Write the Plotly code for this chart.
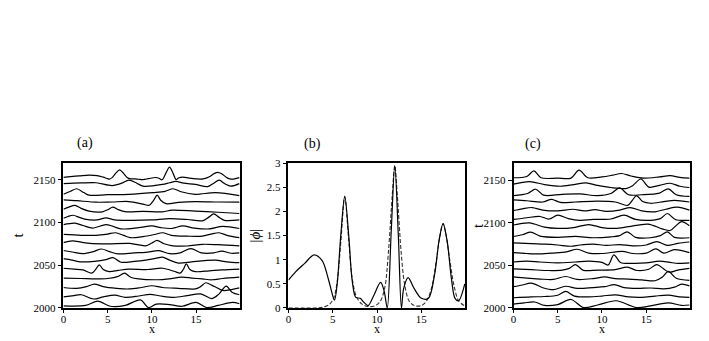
import plotly.graph_objects as go

# base time of every trace in the waterfalls (a) and (c)
t_rows = [2000, 2010, 2020, 2030, 2040, 2050, 2060, 2070, 2080, 2090, 2100, 2110, 2120, 2130, 2140, 2150]
amp_scale = 5.0  # t units drawn per unit of |phi|

# (b) |phi| at the last time (solid) and the soliton fit (dashed)
b_x = [0, 0.8, 1.8, 2.9, 3.8, 4.5, 5.0, 5.2, 5.5, 5.9, 6.35, 6.8, 7.2, 7.6, 8.1, 8.5, 9.0, 9.6, 10.4, 10.8,
       11.15, 11.6, 12.0, 12.4, 12.75, 13.0, 13.5, 14.2, 15.0, 15.8, 16.5, 17.0, 17.45, 17.9, 18.4, 18.8, 19.2, 19.9]
b_phi = [0.58, 0.75, 0.92, 1.1, 0.98, 0.6, 0.25, 0.16, 0.5, 1.5, 2.32, 1.5, 0.55, 0.22, 0.2, 0.12, 0.05, 0.25, 0.53, 0.35,
         0.0, 1.6, 2.95, 1.5, 0.0, 0.4, 0.63, 0.4, 0.2, 0.2, 0.7, 1.4, 1.75, 1.4, 0.6, 0.2, 0.15, 0.5]
b_fit_x = [0, 3.0, 4.0, 4.6, 5.1, 5.5, 5.9, 6.35, 6.8, 7.2, 7.7, 8.3, 9.0, 9.8, 10.4, 10.9, 11.3, 11.7, 12.0, 12.3,
           12.7, 13.1, 13.6, 14.2, 15.0, 15.6, 16.2, 16.7, 17.1, 17.45, 17.8, 18.2, 18.7, 19.2, 19.9]
b_fit_phi = [0, 0, 0.02, 0.07, 0.2, 0.55, 1.35, 2.3, 1.4, 0.6, 0.22, 0.08, 0.03, 0.05, 0.15, 0.45, 1.2, 2.3, 2.95, 2.3,
             1.2, 0.5, 0.15, 0.05, 0.05, 0.15, 0.45, 1.0, 1.5, 1.75, 1.5, 1.0, 0.45, 0.15, 0.04]

# (a) waterfall, one knot list per trace (x, |phi|)
a00_x = [0, 2.5, 3.9, 5.3, 7.0, 8.7, 9.6, 10.5, 12.0, 13.4, 15.0, 16.2, 17.5, 19.1, 19.9]
a00_phi = [0.5, 0.6, 1.6, 0.4, 0.6, 1.9, 0.1, 0.9, 0.8, 0.4, 1.3, 0.1, 0.6, 1.3, 1.0]
a01_x = [0, 1.2, 2.0, 3.4, 4.5, 5.8, 7.0, 8.5, 9.8, 11.0, 12.5, 14.0, 15.5, 16.8, 17.6, 18.4, 19.1, 19.9]
a01_phi = [0.6, 0.9, 1.1, 0.1, 0.6, 1.0, 0.5, 0.8, 1.2, 0.8, 0.5, 0.9, 1.3, 0.2, 1.3, 3.1, 1.6, 1.1]
a02_x = [0, 1.5, 2.6, 3.5, 4.5, 6.0, 7.4, 8.8, 10.0, 11.2, 13.0, 14.9, 15.5, 16.1, 16.8, 17.2, 18.0, 19.0, 19.9]
a02_phi = [0.8, 0.6, 1.0, 1.6, 1.0, 0.6, 0.45, 0.8, 1.2, 0.8, 0.6, 0.45, 1.0, 1.9, 1.3, 0.9, 0.1, 0.3, 0.7]
a03_x = [0, 2.0, 3.7, 5.0, 6.2, 6.9, 7.6, 8.5, 11.2, 13.4, 14.5, 15.7, 16.8, 18.0, 19.9]
a03_phi = [1.0, 0.9, 0.8, 0.9, 1.4, 2.15, 1.2, 0.8, 0.65, 1.2, 1.0, 0.8, 0.6, 0.9, 1.2]
a04_x = [0, 1.2, 2.2, 3.2, 3.6, 4.05, 4.5, 5.2, 6.2, 7.4, 9.5, 11.2, 12.5, 13.2, 13.55, 13.9, 14.3, 14.9, 16.5, 17.9, 19.9]
a04_phi = [1.3, 1.1, 0.9, 0.15, 0.9, 2.1, 1.0, 0.5, 0.8, 1.1, 1.0, 1.3, 0.6, 0.15, 1.0, 2.3, 1.0, 0.5, 0.7, 0.9, 1.1]
a05_x = [0, 1.0, 1.9, 3.5, 4.8, 5.6, 6.5, 8.0, 9.3, 10.4, 11.2, 12.0, 13.0, 14.5, 16.0, 17.2, 18.5, 19.9]
a05_phi = [1.55, 1.2, 0.8, 0.9, 1.3, 1.8, 0.7, 0.9, 1.2, 1.6, 1.9, 1.2, 0.5, 0.8, 1.1, 1.2, 0.8, 0.6]
a06_x = [0, 1.0, 2.2, 3.4, 4.3, 5.2, 6.2, 8.0, 9.3, 10.8, 12.0, 13.2, 14.4, 15.6, 17.0, 17.9, 19.0, 19.9]
a06_phi = [1.45, 1.1, 0.7, 1.2, 1.8, 1.2, 0.65, 0.9, 1.0, 1.4, 0.7, 0.9, 1.9, 0.9, 0.9, 1.3, 0.8, 0.9]
a07_x = [0, 1.0, 2.0, 3.0, 5.0, 7.5, 9.3, 10.0, 10.6, 11.3, 12.2, 14.0, 15.7, 17.5, 19.9]
a07_phi = [1.3, 1.7, 1.4, 1.1, 1.0, 1.1, 0.55, 1.2, 1.8, 1.1, 0.6, 0.5, 0.9, 0.8, 0.55]
a08_x = [0, 2.0, 3.7, 5.0, 5.9, 6.8, 7.6, 9.0, 10.3, 11.2, 12.2, 14.0, 15.7, 16.7, 17.6, 18.5, 19.9]
a08_phi = [1.2, 1.0, 1.0, 1.3, 1.6, 1.0, 0.45, 0.7, 1.2, 1.6, 1.0, 0.8, 0.8, 1.3, 1.6, 1.0, 0.45]
a09_x = [0, 1.3, 2.2, 3.3, 4.8, 5.6, 6.5, 8.5, 10.0, 11.0, 12.2, 13.5, 14.8, 16.5, 18.0, 19.9]
a09_phi = [1.5, 1.85, 1.3, 0.7, 1.5, 1.1, 0.5, 0.8, 1.2, 0.8, 0.6, 1.2, 0.7, 0.5, 1.1, 0.6]
a10_x = [0, 0.5, 1.1, 1.8, 2.4, 3.8, 4.8, 5.8, 7.5, 10.0, 12.0, 14.0, 15.7, 16.4, 17.0, 17.6, 18.2, 19.9]
a10_phi = [1.0, 1.4, 1.7, 1.2, 0.8, 0.6, 1.1, 0.6, 0.5, 0.6, 0.9, 0.7, 0.4, 1.2, 2.0, 1.2, 0.5, 0.6]
a11_x = [0, 0.6, 1.3, 2.0, 2.9, 4.4, 5.0, 5.6, 6.2, 7.1, 9.0, 11.2, 12.3, 14.9, 17.5, 19.9]
a11_phi = [1.1, 1.6, 2.0, 1.3, 0.65, 0.5, 1.0, 1.6, 1.0, 0.5, 0.6, 0.5, 0.9, 0.65, 0.4, 0.1]
a12_x = [0, 1.5, 3.7, 5.5, 7.4, 9.0, 9.7, 10.2, 10.6, 11.0, 11.6, 13.0, 14.9, 17.5, 19.9]
a12_phi = [1.3, 1.1, 0.75, 0.8, 0.9, 0.3, 0.05, 1.2, 2.4, 1.2, 0.4, 0.7, 0.9, 0.8, 0.75]
a13_x = [0, 0.8, 1.5, 2.3, 2.9, 5.0, 7.4, 10.1, 11.5, 12.4, 13.3, 14.9, 17.2, 19.9]
a13_phi = [0.6, 1.3, 1.9, 1.0, 0.4, 0.5, 0.6, 1.0, 1.3, 1.9, 1.2, 0.6, 1.0, 0.3]
a14_x = [0, 2.0, 3.7, 5.5, 6.6, 7.4, 8.3, 9.0, 11.2, 12.0, 12.7, 13.6, 14.9, 16.3, 17.0, 17.6, 18.3, 18.9, 19.9]
a14_phi = [1.1, 1.25, 1.3, 0.65, 1.2, 1.9, 1.2, 0.5, 0.9, 1.3, 1.6, 1.2, 0.9, 0.4, 1.2, 1.9, 1.0, 0.5, 1.1]
# the top trace of (a) is the profile shown in (b)

# (c) waterfall
c00_x = [0, 1.2, 2.4, 3.5, 5.0, 6.5, 7.9, 9.5, 11.6, 13.9, 15.5, 17.5, 19.0, 19.9]
c00_phi = [0.9, 1.2, 1.4, 0.6, 0.8, 2.0, 0.1, 0.7, 1.7, 0.1, 0.5, 1.2, 0.6, 0.7]
c01_x = [0, 2.0, 3.5, 5.0, 5.9, 6.9, 8.5, 10.0, 11.5, 13.0, 14.5, 16.0, 17.5, 18.8, 19.9]
c01_phi = [0.4, 0.6, 0.7, 1.0, 1.9, 0.8, 0.6, 0.8, 1.1, 0.6, 0.5, 0.8, 1.0, 0.6, 0.5]
c02_x = [0, 1.0, 2.0, 3.4, 4.5, 5.9, 7.2, 9.0, 10.3, 11.4, 12.5, 14.0, 15.5, 17.0, 18.2, 19.0, 19.9]
c02_phi = [1.0, 1.4, 1.85, 0.7, 0.3, 1.1, 0.6, 0.8, 1.0, 1.5, 0.8, 0.6, 0.7, 0.5, 0.9, 1.6, 1.2]
c03_x = [0, 1.5, 3.0, 4.5, 5.9, 7.2, 9.0, 10.3, 11.5, 13.0, 14.5, 16.0, 16.8, 17.5, 18.4, 19.9]
c03_phi = [1.3, 1.0, 0.8, 0.7, 1.4, 0.7, 0.9, 1.3, 0.9, 0.8, 0.6, 0.4, 1.2, 2.6, 1.0, 0.5]
c04_x = [0, 2.0, 4.0, 5.5, 6.3, 7.0, 7.9, 9.5, 11.5, 12.85, 14.0, 15.3, 16.2, 17.1, 17.6, 18.6, 19.9]
c04_phi = [1.2, 1.0, 0.8, 0.9, 1.3, 2.2, 0.85, 0.9, 1.0, 1.6, 0.8, 1.1, 2.2, 1.0, 0.4, 0.9, 1.3]
c05_x = [0, 1.5, 3.0, 5.0, 7.0, 8.5, 10.0, 10.7, 11.35, 12.1, 13.5, 15.0, 16.5, 17.7, 18.6, 19.9]
c05_phi = [0.8, 1.0, 0.8, 0.6, 0.8, 1.0, 0.7, 0.1, 2.5, 0.7, 0.5, 0.6, 1.0, 0.7, 0.5, 0.6]
c06_x = [0, 1.5, 3.0, 4.5, 6.0, 7.2, 8.5, 10.0, 12.3, 13.5, 15.0, 16.1, 17.0, 18.2, 19.9]
c06_phi = [1.0, 0.8, 0.7, 0.9, 1.2, 1.8, 0.9, 0.8, 1.3, 0.8, 0.9, 1.9, 0.9, 1.7, 1.0]
c07_x = [0, 2.0, 3.5, 5.0, 6.5, 7.5, 9.0, 10.5, 12.0, 13.5, 15.0, 16.2, 17.4, 18.6, 19.9]
c07_phi = [1.3, 1.1, 1.0, 0.8, 0.5, 0.8, 1.0, 0.7, 0.9, 0.6, 0.8, 1.6, 0.7, 1.2, 1.5]
c08_x = [0, 1.0, 1.95, 3.0, 5.0, 7.0, 9.0, 11.0, 12.0, 12.85, 13.8, 15.5, 16.6, 17.4, 18.2, 19.9]
c08_phi = [0.8, 1.2, 1.8, 0.9, 0.6, 0.8, 0.5, 0.7, 1.0, 1.9, 0.6, 0.5, 1.0, 1.9, 0.6, 0.5]
c09_x = [0, 1.8, 3.5, 5.0, 6.8, 8.5, 10.0, 11.5, 13.0, 15.2, 16.8, 17.7, 18.3, 19.0, 19.9]
c09_phi = [1.5, 2.0, 1.0, 0.7, 0.9, 1.6, 0.9, 0.7, 1.1, 1.7, 0.6, 0.2, 1.2, 2.3, 1.3]
c10_x = [0, 1.5, 3.0, 4.0, 5.0, 6.2, 7.5, 9.0, 11.0, 12.5, 13.8, 15.5, 16.6, 17.4, 18.3, 19.9]
c10_phi = [0.8, 1.2, 1.5, 0.9, 1.8, 1.0, 0.6, 0.8, 0.9, 1.8, 0.8, 0.6, 1.0, 2.2, 0.8, 0.6]
c11_x = [0, 1.0, 2.1, 3.3, 5.0, 6.7, 8.0, 9.2, 10.5, 12.0, 13.2, 14.5, 16.0, 17.2, 18.5, 19.9]
c11_phi = [0.9, 1.3, 1.6, 1.0, 0.8, 1.2, 0.8, 1.1, 0.7, 1.0, 1.6, 0.8, 0.6, 1.2, 1.7, 1.0]
c12_x = [0, 1.5, 3.3, 4.3, 5.3, 7.0, 9.5, 11.5, 12.9, 13.4, 13.9, 14.6, 15.5, 17.0, 18.2, 19.9]
c12_phi = [1.4, 1.2, 0.9, 1.5, 0.8, 0.9, 1.1, 0.9, 0.1, 1.2, 2.4, 1.0, 0.6, 1.0, 1.3, 0.9]
c13_x = [0, 1.6, 2.5, 3.4, 5.5, 7.5, 9.5, 11.0, 12.0, 13.0, 14.5, 16.5, 17.5, 18.4, 19.9]
c13_phi = [0.4, 0.9, 1.9, 0.5, 0.7, 0.8, 0.4, 0.9, 2.2, 0.6, 0.6, 1.0, 2.0, 0.6, 0.2]
c14_x = [0, 1.8, 3.5, 5.3, 6.8, 8.2, 9.5, 11.0, 12.8, 13.5, 14.4, 15.3, 16.5, 17.7, 18.8, 19.9]
c14_phi = [1.1, 1.7, 1.0, 0.6, 1.0, 1.4, 0.8, 0.3, 0.1, 0.8, 2.3, 0.4, 0.8, 1.3, 0.6, 0.3]
c15_x = [0, 1.5, 2.3, 3.1, 5.0, 6.5, 7.4, 8.4, 10.0, 11.2, 12.2, 13.3, 14.7, 16.5, 17.7, 18.8, 19.9]
c15_phi = [0.6, 0.9, 2.2, 0.6, 0.5, 0.5, 2.4, 0.6, 0.8, 1.2, 1.6, 1.0, 0.5, 0.8, 1.1, 0.7, 0.5]

a_traces = [(a00_x, a00_phi), (a01_x, a01_phi), (a02_x, a02_phi), (a03_x, a03_phi), (a04_x, a04_phi),
            (a05_x, a05_phi), (a06_x, a06_phi), (a07_x, a07_phi), (a08_x, a08_phi), (a09_x, a09_phi),
            (a10_x, a10_phi), (a11_x, a11_phi), (a12_x, a12_phi), (a13_x, a13_phi), (a14_x, a14_phi),
            (b_x, b_phi)]
c_traces = [(c00_x, c00_phi), (c01_x, c01_phi), (c02_x, c02_phi), (c03_x, c03_phi), (c04_x, c04_phi),
            (c05_x, c05_phi), (c06_x, c06_phi), (c07_x, c07_phi), (c08_x, c08_phi), (c09_x, c09_phi),
            (c10_x, c10_phi), (c11_x, c11_phi), (c12_x, c12_phi), (c13_x, c13_phi), (c14_x, c14_phi),
            (c15_x, c15_phi)]

FONT = "Liberation Serif, Times New Roman, serif"
W, H = 709, 341

fig = go.Figure()

for (xs, ph), t0 in zip(a_traces, t_rows):
    fig.add_trace(go.Scatter(x=xs, y=[t0 + amp_scale * p for p in ph], mode="lines",
                             line=dict(color="black", width=1.2, shape="spline", smoothing=0.9),
                             xaxis="x", yaxis="y", showlegend=False, hoverinfo="skip"))

fig.add_trace(go.Scatter(x=b_fit_x, y=b_fit_phi, mode="lines",
                         line=dict(color="#333333", width=1.1, dash="4px,2px", shape="spline", smoothing=0.9),
                         xaxis="x2", yaxis="y2", showlegend=False, hoverinfo="skip"))
fig.add_trace(go.Scatter(x=b_x, y=b_phi, mode="lines",
                         line=dict(color="black", width=1.2, shape="spline", smoothing=0.9),
                         xaxis="x2", yaxis="y2", showlegend=False, hoverinfo="skip"))

for (xs, ph), t0 in zip(c_traces, t_rows):
    fig.add_trace(go.Scatter(x=xs, y=[t0 + amp_scale * p for p in ph], mode="lines",
                             line=dict(color="black", width=1.2, shape="spline", smoothing=0.9),
                             xaxis="x3", yaxis="y3", showlegend=False, hoverinfo="skip"))

ydom = [28 / H, 178 / H]
common = dict(showgrid=False, zeroline=False, showline=True, mirror=True, linecolor="black", linewidth=1.5,
              ticks="outside", ticklen=4, tickwidth=1, tickcolor="black",
              tickfont=dict(family=FONT, size=11, color="black"))

xticks = dict(range=[0, 19.93], tickvals=[0, 5, 10, 15], ticklen=3, ticklabelstandoff=-3)
tticks = dict(tickvals=[2000, 2050, 2100, 2150])

common_x = {**common, **xticks}

fig.update_layout(
    width=W, height=H, margin=dict(l=0, r=0, t=0, b=0),
    paper_bgcolor="white", plot_bgcolor="white",
    font=dict(family=FONT, color="black"),
    xaxis=dict(domain=[60.7 / W, 237.7 / W], anchor="y", **common_x),
    yaxis=dict(domain=ydom, anchor="x", range=[2000, 2169.3], **tticks, **common),
    xaxis2=dict(domain=[286.7 / W, 464 / W], anchor="y2", **common_x),
    yaxis2=dict(domain=ydom, anchor="x2", range=[0, 3], tickvals=[0, 0.5, 1, 1.5, 2, 2.5, 3],
                ticktext=["0", "0.5", "1", "1.5", "2", "2.5", "3"], **common),
    xaxis3=dict(domain=[512.7 / W, 689.7 / W], anchor="y3", **common_x),
    yaxis3=dict(domain=ydom, anchor="x3", range=[2000, 2170], **tticks, **common),
)


def label(text, px, py, size, angle=0):
    fig.add_annotation(text=text, x=px / W, y=1 - py / H, xref="paper", yref="paper",
                       showarrow=False, textangle=angle, xanchor="center", yanchor="middle",
                       borderpad=0, font=dict(family=FONT, size=size, color="black"))


label("(a)", 82, 142, 14)
label("(b)", 311, 143, 14)
label("(c)", 532, 143, 14)
label("x", 149.2, 334.5, 12)
label("x", 375.3, 334.5, 12)
label("x", 601.2, 334.5, 12)
label("t", 15, 237, 15, -90)
label("t", 477, 227, 15, -90)
label("|<i>ϕ</i>|", 253, 238, 15, -90)

# the page keeps the browser's default 8px body margin unless it is removed
fig.write_html("out.html", config={"displayModeBar": False},
               post_script="document.body.style.margin='0';")
